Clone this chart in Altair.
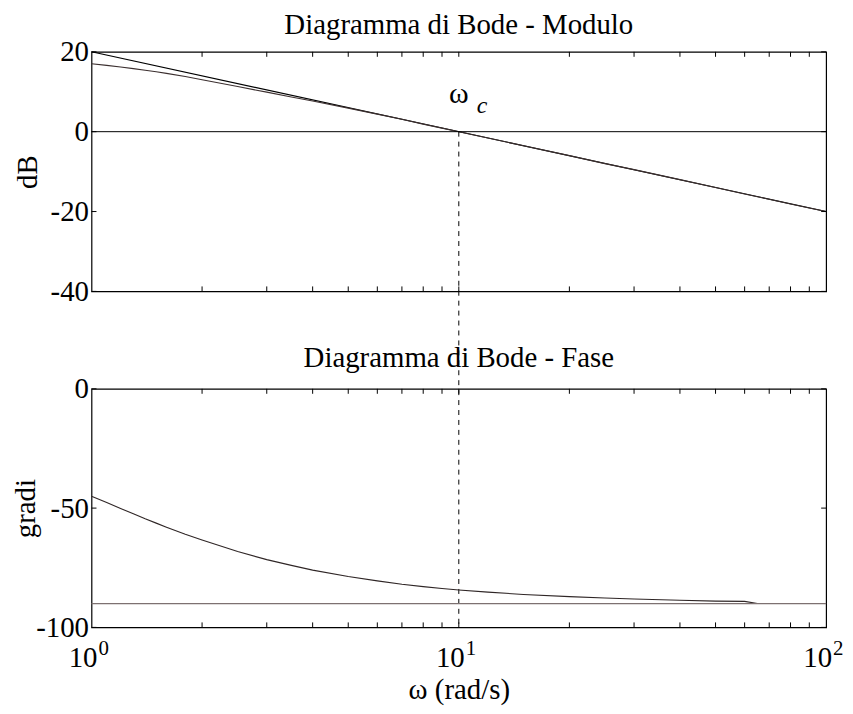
import altair as alt
import pandas as pd

# ---------------- data ----------------
w_curve = [1, 1.1, 1.2, 1.3, 1.4, 1.5, 1.6, 1.8, 2, 2.5, 3, 3.5, 4, 5, 6, 7, 8, 9, 10,
           12, 15, 20, 25, 30, 40, 50, 60, 65, 70, 80, 90, 100]
mag_db = [17.0, 16.6, 16.2, 15.8, 15.4, 15.0, 14.6, 13.8, 13.0, 11.3, 9.9, 8.7, 7.7, 5.9, 4.4,
          3.1, 1.9, 0.9, 0.0,
          -1.6, -3.5, -6.0, -8.0, -9.5, -12.0, -14.0, -15.6, -16.3, -16.9, -18.1, -19.1, -20.0]
phase_deg = [-45, -47.7, -50.2, -52.4, -54.5, -56.3, -58.0, -61.0, -63.4, -68.2, -71.6, -74.0,
             -76.0, -78.7, -80.5, -81.9, -82.9, -83.7, -84.3,
             -85.2, -86.2, -87.1, -87.7, -88.1, -88.6, -89.0, -89.1, -90, -90, -90, -90, -90]

w_asym = [1, 100]
mag_asym = [20, -20]
phase_asym = [-90]
zero_db = [0]
w_cross = [10]

mag_ticks = [-40, -20, 0, 20]
phase_ticks = [-100, -50, 0]
x_minor = [2, 3, 4, 5, 6, 7, 8, 9, 10, 20, 30, 40, 50, 60, 70, 80, 90]
x_major = [1, 10, 100]
x_exp = ["0", "1", "2"]

# ---------------- layout ----------------
W = 739
H1 = 241
H2 = 240
GAP = 98
FONT = "Liberation Serif"
FS = 29
TICK = 5

curve = pd.DataFrame({"w": w_curve, "mag": mag_db, "phase": phase_deg})
asym = pd.DataFrame({"w": w_asym, "mag": mag_asym})
xt_minor = pd.DataFrame({"w": x_minor})
xt_major = pd.DataFrame({"w": x_major, "base": ["10"] * 3, "e": x_exp})

xscale = alt.Scale(type="log", domain=[1, 100], nice=False)
x_top = alt.X("w:Q", scale=xscale, axis=None)
x_bottom = alt.X("w:Q", scale=xscale,
                 axis=alt.Axis(labels=False, ticks=False, domain=False, grid=False,
                               title="ω (rad/s)", titlePadding=49))


def y_ticks(field_vals, scale):
    df = pd.DataFrame({"v": field_vals})
    base = alt.Chart(df)
    left = base.mark_rule(color="black", strokeWidth=1).encode(
        y=alt.Y("v:Q", scale=scale), x=alt.value(0), x2=alt.value(TICK))
    right = base.mark_rule(color="black", strokeWidth=1).encode(
        y=alt.Y("v:Q", scale=scale), x=alt.value(W), x2=alt.value(W - TICK))
    return left + right


def x_ticks(h, xenc):
    base = alt.Chart(xt_minor)
    top = base.mark_rule(color="black", strokeWidth=1).encode(
        x=xenc, y=alt.value(0), y2=alt.value(TICK))
    bot = base.mark_rule(color="black", strokeWidth=1).encode(
        x=xenc, y=alt.value(h), y2=alt.value(h - TICK))
    return top + bot


# ---------- magnitude panel ----------
yscale1 = alt.Scale(domain=[-40, 20], nice=False, zero=False)
y1 = alt.Y("mag:Q", scale=yscale1,
           axis=alt.Axis(values=mag_ticks, title="dB", grid=False, ticks=False,
                         domain=False, labelPadding=3, titlePadding=8,
                         labelExpr="toString(datum.value)"))

asym_line = alt.Chart(asym).mark_line(color="black", strokeWidth=1.1).encode(x=x_top, y=y1)
mag_line = alt.Chart(curve).mark_line(color="#3b2f2f", strokeWidth=1.1).encode(x=x_top, y=y1)
zero_line = alt.Chart(pd.DataFrame({"v": zero_db})).mark_rule(color="black", strokeWidth=1).encode(
    y=alt.Y("v:Q", scale=yscale1))
cross_line = alt.Chart(pd.DataFrame({"w": w_cross, "v": zero_db})).mark_rule(
    color="black", strokeWidth=1, strokeDash=[5, 5]).encode(
    x=x_top, y=alt.Y("v:Q", scale=yscale1), y2=alt.value(H1 + GAP + H2))
omega_lbl = alt.Chart(pd.DataFrame({"w": w_cross, "v": [9.5]})).mark_text(
    text="ω", font=FONT, fontSize=30, align="center", baseline="middle").encode(
    x=x_top, y=alt.Y("v:Q", scale=yscale1))
c_lbl = alt.Chart(pd.DataFrame({"w": w_cross, "v": [9.5]})).mark_text(
    text="c", font=FONT, fontSize=24, fontStyle="italic", align="left", baseline="middle",
    dx=18, dy=12).encode(x=x_top, y=alt.Y("v:Q", scale=yscale1))

top = alt.layer(
    asym_line, mag_line, zero_line, cross_line, omega_lbl, c_lbl,
    y_ticks(mag_ticks, yscale1), x_ticks(H1, x_top)
).properties(
    width=W, height=H1,
    title=alt.TitleParams("Diagramma di Bode - Modulo", font=FONT, fontSize=FS,
                          fontWeight="normal", offset=-2),
)

# ---------- phase panel ----------
yscale2 = alt.Scale(domain=[-100, 0], nice=False, zero=False)
y2 = alt.Y("phase:Q", scale=yscale2,
           axis=alt.Axis(values=phase_ticks, title="gradi", grid=False, ticks=False,
                         domain=False, labelPadding=3, titlePadding=-5,
                         labelExpr="toString(datum.value)"))

phase_line = alt.Chart(curve).mark_line(color="#2f2626", strokeWidth=1.1).encode(x=x_bottom, y=y2)
phase_asym_line = alt.Chart(pd.DataFrame({"v": phase_asym})).mark_rule(
    color="#7d7171", strokeWidth=1.3).encode(y=alt.Y("v:Q", scale=yscale2))
base_lbl = alt.Chart(xt_major).mark_text(
    font=FONT, fontSize=FS, align="right", baseline="alphabetic", dx=6).encode(
    x=x_bottom, y=alt.value(H2 + 40), text="base:N")
exp_lbl = alt.Chart(xt_major).mark_text(
    font=FONT, fontSize=21, align="left", baseline="alphabetic", dx=7, dy=-12).encode(
    x=x_bottom, y=alt.value(H2 + 40), text="e:N")

bottom = alt.layer(
    phase_line, phase_asym_line, base_lbl, exp_lbl,
    y_ticks(phase_ticks, yscale2), x_ticks(H2, x_bottom)
).properties(
    width=W, height=H2,
    title=alt.TitleParams("Diagramma di Bode - Fase", font=FONT, fontSize=FS,
                          fontWeight="normal", offset=2),
)

chart = alt.vconcat(top, bottom, spacing=GAP, bounds="flush").properties(
    padding={"left": 3, "top": 0, "right": 0, "bottom": 0}
).configure(
    background="white"
).configure_view(
    stroke="black", strokeWidth=1.2
).configure_axis(
    labelFont=FONT, labelFontSize=FS, labelColor="black",
    titleFont=FONT, titleFontSize=FS, titleFontWeight="normal", titleColor="black",
)

chart.save("out.html", embed_options={"renderer": "svg", "actions": False})
